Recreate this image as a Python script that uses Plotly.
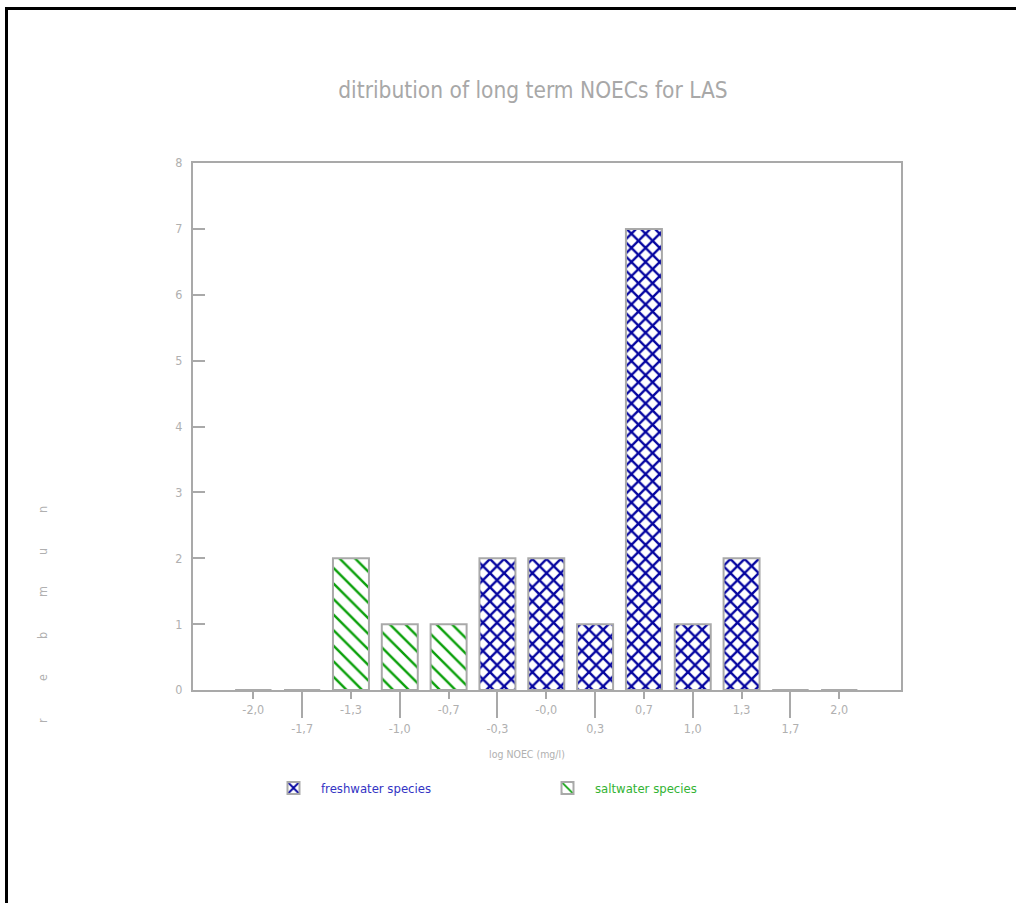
import plotly.graph_objects as go

# --- data -------------------------------------------------------------
categories = ["-2,0", "-1,7", "-1,3", "-1,0", "-0,7", "-0,3", "-0,0",
              "0,3", "0,7", "1,0", "1,3", "1,7", "2,0"]
freshwater = [0, 0, 0, 0, 0, 2, 2, 1, 7, 1, 2, 0, 0]
saltwater = [0, 0, 2, 1, 1, 0, 0, 0, 0, 0, 0, 0, 0]
y_ticks = [0, 1, 2, 3, 4, 5, 6, 7, 8]

# --- page geometry (pixels) --------------------------------------------
W, H = 1016, 903
PL, PR, PT, PB = 193, 901, 163, 690          # plot area box


def px(x):
    return (x - PL) / (PR - PL)


def py(y):
    return (PB - y) / (PB - PT)


FONT = "DejaVu Sans Condensed, DejaVu Sans, sans-serif"
GREY = "#a9a9a9"
TXT = "#b0b0b0"
BLUE = "#0505a0"
GREEN = "#0aa00a"


def f(size, color=TXT):
    return dict(family=FONT, size=size, color=color)


xs = list(range(len(categories)))
xr = [-1.235, len(categories) - 1 + 1.265]

fig = go.Figure()
fig.add_trace(go.Bar(
    x=xs, y=freshwater, width=0.737,
    name='<span style="color:#3333c4">freshwater species</span>',
    marker=dict(color="white", line=dict(color=GREY, width=2),
                pattern=dict(shape="x", fgcolor=BLUE, bgcolor="white",
                             fgopacity=1, size=10, solidity=0.42)),
))
fig.add_trace(go.Bar(
    x=xs, y=saltwater, width=0.737, xaxis="x2",
    name='<span style="color:#33b333">saltwater species</span>',
    marker=dict(color="white", line=dict(color=GREY, width=2),
                pattern=dict(shape="\\", fgcolor=GREEN, bgcolor="white",
                             fgopacity=1, size=11, solidity=0.22)),
))

axis_font = f(12.5)

fig.update_layout(
    width=W, height=H,
    margin=dict(l=PL, r=W - PR, t=PT, b=H - PB),
    paper_bgcolor="white", plot_bgcolor="white",
    barmode="overlay",
    font=f(13),
    title=dict(text="ditribution of long term NOECs for LAS",
               font=f(22.5, "#a8a8a8"),
               xref="paper", x=px(533), xanchor="center",
               yref="container", y=1 - 90 / H, yanchor="middle"),
    xaxis=dict(range=xr, tickmode="array",
               tickvals=xs[0::2], ticktext=categories[0::2],
               ticks="outside", ticklen=7, tickwidth=2, tickcolor=GREY,
               tickfont=axis_font, showgrid=False, zeroline=False,
               showline=True, linecolor=GREY, linewidth=2, mirror=True),
    xaxis2=dict(range=xr, overlaying="x", anchor="y", side="bottom",
                tickmode="array",
                tickvals=xs[1::2], ticktext=categories[1::2],
                ticks="outside", ticklen=27, tickwidth=2, tickcolor=GREY,
                tickfont=axis_font, showgrid=False, zeroline=False,
                showline=False),
    yaxis=dict(range=[0, 8], tickmode="array", tickvals=y_ticks,
               ticks="inside", ticklen=12, tickwidth=2, tickcolor=GREY,
               tickfont=axis_font, ticklabelstandoff=6,
               showgrid=False, zeroline=False,
               showline=True, linecolor=GREY, linewidth=2, mirror=True),
    legend=dict(orientation="h", x=px(266), xanchor="left",
                y=py(788), yanchor="middle", entrywidth=214,
                entrywidthmode="pixels", itemwidth=45,
                font=f(13), bgcolor="rgba(0,0,0,0)"),
    showlegend=True,
)

# x-axis caption
fig.add_annotation(text="log NOEC (mg/l)", xref="paper", yref="paper",
                   x=px(527), y=py(762), showarrow=False, font=f(10.5))

# vertical caption, one turned letter at a time
for i, ch in enumerate("number"):
    fig.add_annotation(text=ch, xref="paper", yref="paper",
                       x=px(33), y=py(515 + 42 * i), showarrow=False,
                       textangle=-90, font=f(12.5))

# black frame on the left and top edges of the page
fig.add_shape(type="line", xref="paper", yref="paper",
              x0=px(6.5), x1=px(6.5), y0=py(7), y1=py(H + 2),
              line=dict(color="black", width=3))
fig.add_shape(type="line", xref="paper", yref="paper",
              x0=px(5), x1=px(W + 2), y0=py(8.5), y1=py(8.5),
              line=dict(color="black", width=3))

fig.write_html("out.html")
